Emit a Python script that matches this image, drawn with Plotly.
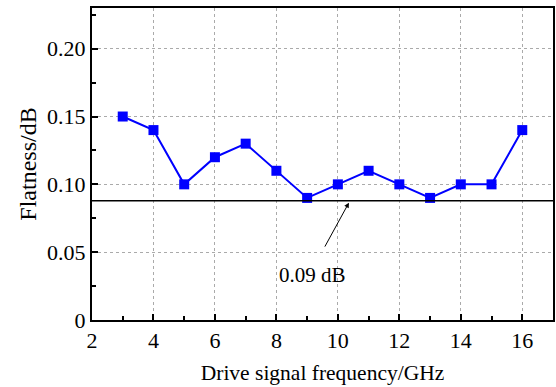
import plotly.graph_objects as go

freq = [3, 4, 5, 6, 7, 8, 9, 10, 11, 12, 13, 14, 15, 16]
flatness = [0.15, 0.14, 0.10, 0.12, 0.13, 0.11, 0.09, 0.10, 0.11, 0.10, 0.09, 0.10, 0.10, 0.14]
ref_level = 0.088
ref_label = "0.09 dB"
x_ticks = [2, 4, 6, 8, 10, 12, 14, 16]
y_ticks = [0, 0.05, 0.10, 0.15, 0.20]
y_ticklabels = ["0", "0.05", "0.10", "0.15", "0.20"]

font = "Liberation Serif"
tick_font = dict(family=font, size=22, color="black")

fig = go.Figure()
fig.add_trace(go.Scatter(
    x=freq, y=flatness, mode="lines+markers",
    line=dict(color="#0000FF", width=2),
    marker=dict(symbol="square", size=10, color="#0000FF"),
    showlegend=False,
))

fig.add_shape(type="line", xref="paper", x0=0, x1=1, yref="y", y0=ref_level, y1=ref_level,
              line=dict(color="black", width=1.5))

fig.add_annotation(x=10.36, y=0.0865, ax=9.55, ay=0.053, axref="x", ayref="y",
                   xref="x", yref="y", text="", showarrow=True,
                   arrowhead=2, arrowsize=1, arrowwidth=1, arrowcolor="black")
fig.add_annotation(x=9.16, y=0.033, xref="x", yref="y", text=ref_label, showarrow=False,
                   font=dict(family=font, size=21, color="black"))

fig.update_xaxes(
    range=[2, 17], tickmode="array", tickvals=x_ticks, ticktext=[str(v) for v in x_ticks],
    showline=True, linecolor="black", linewidth=2, mirror=True,
    ticks="inside", ticklen=6, tickwidth=2, tickcolor="black",
    showgrid=True, gridcolor="#aaaaaa", griddash="dot", gridwidth=1,
    zeroline=False, tickfont=tick_font,
    title=dict(text="Drive signal frequency/GHz", font=dict(family=font, size=21.5, color="black"), standoff=13),
    minor=dict(ticks="inside", ticklen=4, tickwidth=2, tickcolor="black", dtick=1, tick0=0, showgrid=False),
)
fig.update_yaxes(
    range=[0, 0.23], tickmode="array", tickvals=y_ticks, ticktext=y_ticklabels,
    showline=True, linecolor="black", linewidth=2, mirror=True,
    ticks="inside", ticklen=6, tickwidth=2, tickcolor="black",
    showgrid=True, gridcolor="#aaaaaa", griddash="dot", gridwidth=1,
    zeroline=False, tickfont=tick_font,
    title=dict(text="Flatness/dB", font=dict(family=font, size=24, color="black"), standoff=4),
    minor=dict(ticks="inside", ticklen=4, tickwidth=2, tickcolor="black", dtick=0.025, tick0=0, showgrid=False),
)

fig.update_layout(
    width=556, height=387,
    margin=dict(l=92, r=1, t=8, b=67),
    font=dict(family=font, size=22, color="black"),
    plot_bgcolor="white", paper_bgcolor="white",
)

fig.write_html("out.html")
